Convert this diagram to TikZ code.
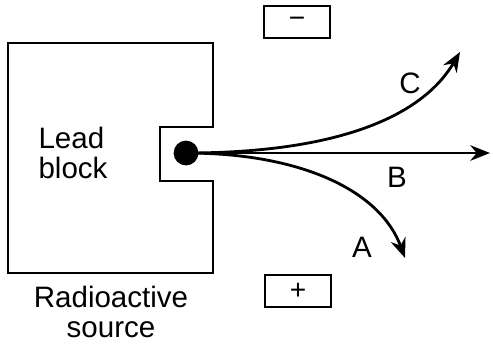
\documentclass[tikz,border=0pt]{standalone}
\usepackage{fontspec}
\setmainfont{Liberation Sans}
\usetikzlibrary{arrows.meta}

\begin{document}
\begin{tikzpicture}[x=0.025cm,y=-0.025cm,
  lbl/.style={font=\fontsize{21}{21.5}\selectfont,align=center,inner sep=0pt},
  plate/.style={draw,line width=1.5pt,minimum width=1.65cm,minimum height=0.82cm,inner sep=0pt,font=\fontsize{20}{20}\selectfont},
  ray/.style={line width=2pt,-{Stealth[length=14pt,width=11pt]}}
]
  \useasboundingbox (0,0) rectangle (493,343);
  % lead block with notch
  \draw[line width=1.6pt] (8,43) -- (213,43) -- (213,127) -- (160,127) -- (160,181)
    -- (213,181) -- (213,273) -- (8,273) -- cycle;
  \node[lbl,align=left] (lead) at (73,153) {Lead\\block};
  \node[lbl] (srcname) at (111,312) {Radioactive\\source};
  \node[circle,fill,inner sep=0pt,minimum size=0.62cm] (dot) at (186,153) {};
  \node[plate] (minus) at (297,22) {−};
  \node[plate] (plus) at (298,291) {+};
  \coordinate (cEnd) at (460,52);
  \coordinate (bEnd) at (490,153);
  \coordinate (aEnd) at (405,258);
  \draw[ray] (dot.center) .. controls (330,153) and (420,120) .. (cEnd);
  \draw[ray] (dot.center) -- (bEnd);
  \draw[ray] (dot.center) .. controls (300,153) and (380,190) .. (aEnd);
  \node[lbl] (cLbl) at (410,83) {C};
  \node[lbl] (bLbl) at (397,177) {B};
  \node[lbl] (aLbl) at (362,247) {A};
\end{tikzpicture}
\end{document}
